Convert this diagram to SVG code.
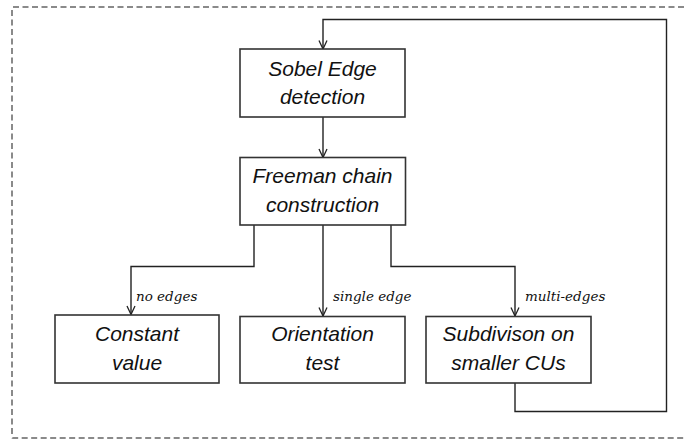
<svg xmlns="http://www.w3.org/2000/svg" width="687" height="441" viewBox="0 0 687 441">
  <style>
    .box { fill: #ffffff; stroke: #333333; stroke-width: 1.6; }
    .t { font-family: "Liberation Sans", Arial, sans-serif; font-style: italic; font-size: 21px; fill: #111111; text-anchor: middle; }
    .lbl { font-family: "DejaVu Serif", "Liberation Serif", serif; font-style: italic; font-size: 13.5px; fill: #111111; }
    .conn { fill: none; stroke: #222222; stroke-width: 1.4; }
    .frame { fill: none; stroke: #8a8a8a; stroke-width: 2; stroke-dasharray: 6 3.5; }
  </style>
  <defs>
    <marker id="arrow" viewBox="0 0 10 10" refX="9.5" refY="5" markerWidth="10" markerHeight="10" markerUnits="userSpaceOnUse" orient="auto">
      <path d="M1,1 L9.5,5 L1,9" fill="none" stroke="#222222" stroke-width="1.3"/>
    </marker>
  </defs>

  <rect width="687" height="441" fill="#ffffff"/>

  <!-- dashed outer frame -->
  <path class="frame" d="M684,7 L13,7 Q12,7 12,8 L12,437 Q12,438 13,438 L684,438"/>

  <!-- connectors -->
  <g id="connectors">
    <path class="conn" d="M515,383 L515,411.5 L666.5,411.5 L666.5,19.5 L323,19.5 L323,49" marker-end="url(#arrow)"/>
    <path class="conn" d="M323,117 L323,157.5" marker-end="url(#arrow)"/>
    <path class="conn" d="M254,225 L254,266.5 L131,266.5 L131,314.5" marker-end="url(#arrow)"/>
    <path class="conn" d="M323,225 L323,316" marker-end="url(#arrow)"/>
    <path class="conn" d="M391,225 L391,266.5 L515,266.5 L515,316" marker-end="url(#arrow)"/>
    <text class="lbl" x="136" y="301">no edges</text>
    <text class="lbl" x="333" y="301">single edge</text>
    <text class="lbl" x="525" y="301">multi-edges</text>
  </g>

  <g id="sobel">
    <rect class="box" x="240" y="49" width="165" height="68"/>
    <text class="t" x="322.5" y="76">Sobel Edge</text>
    <text class="t" x="322.5" y="104">detection</text>
  </g>

  <g id="freeman">
    <rect class="box" x="240" y="157.5" width="165.5" height="67.5"/>
    <text class="t" x="322.5" y="183">Freeman chain</text>
    <text class="t" x="322.5" y="212">construction</text>
  </g>

  <g id="constant">
    <rect class="box" x="55" y="315" width="164" height="68"/>
    <text class="t" x="137" y="341">Constant</text>
    <text class="t" x="137" y="370">value</text>
  </g>

  <g id="orientation">
    <rect class="box" x="240" y="316.5" width="165" height="66.5"/>
    <text class="t" x="322.5" y="341">Orientation</text>
    <text class="t" x="322.5" y="370">test</text>
  </g>

  <g id="subdivision">
    <rect class="box" x="426" y="316.5" width="165" height="66.5"/>
    <text class="t" x="508.5" y="341">Subdivison on</text>
    <text class="t" x="508.5" y="370">smaller CUs</text>
  </g>
</svg>
